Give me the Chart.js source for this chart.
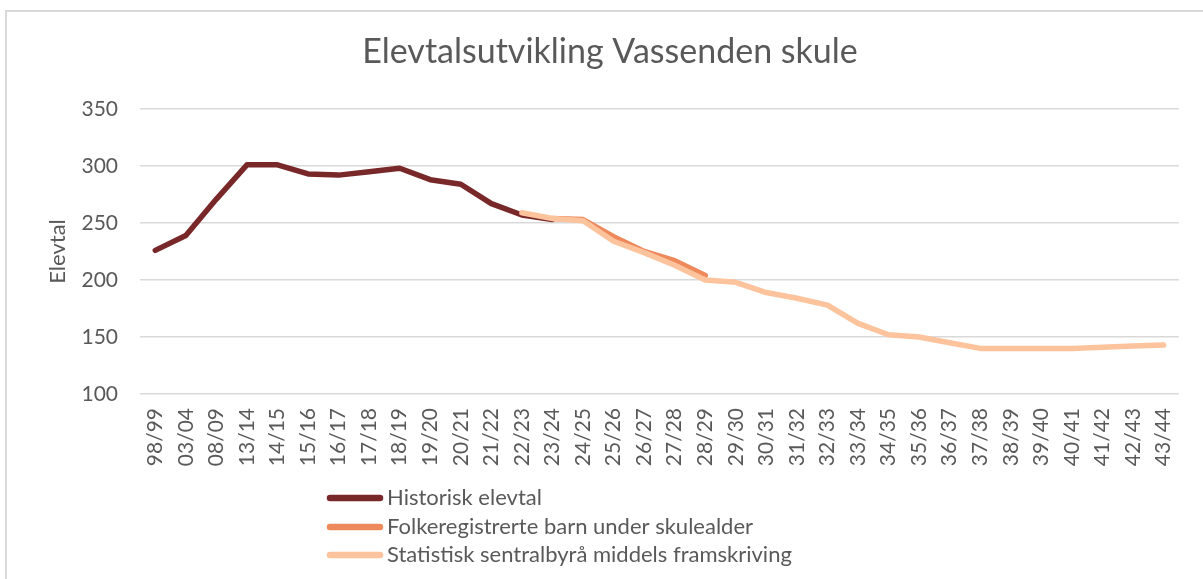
<!DOCTYPE html>
<html>
<head>
<meta charset="utf-8">
<script src="https://cdn.jsdelivr.net/npm/chart.js@4"></script>
<style>
  html, body { margin:0; padding:0; background:#fff; }
  body { width:1203px; height:579px; overflow:hidden; position:relative; }
  #frame { position:absolute; left:5px; top:10px; width:1210px; height:600px; border-left:2px solid #d9d9d9; border-top:2px solid #d9d9d9; box-sizing:border-box; }
  #wrap { position:absolute; left:0; top:0; width:1203px; height:579px; }
</style>
</head>
<body>
<div id="frame"></div>
<div id="wrap"><canvas id="c" width="1203" height="579"></canvas></div>
<script>
const chartTitle = 'Elevtalsutvikling Vassenden skule';
const categories = ['98/99','03/04','08/09','13/14','14/15','15/16','16/17','17/18','18/19','19/20','20/21','21/22','22/23','23/24','24/25','25/26','26/27','27/28','28/29','29/30','30/31','31/32','32/33','33/34','34/35','35/36','36/37','37/38','38/39','39/40','40/41','41/42','42/43','43/44'];

// Historisk elevtal: 98/99 .. 23/24
const historiskElevtal = [226,239,271,301,301,293,292,295,298,288,284,267,257,253];
// Folkeregistrerte barn under skulealder: 23/24 .. 28/29
const folkeregistrerte = [254,253,238,225,217,204];
const folkeregStart = 13;
// Statistisk sentralbyrå middels framskriving: 22/23 .. 43/44
const ssbMiddels = [259,254,252,234,224,213,200,198,189,184,178,162,152,150,145,140,140,140,140,141,142,143];
const ssbStart = 12;

const yTicks = [100,150,200,250,300,350];

function pad(start, vals) {
  return Array(start).fill(null).concat(vals);
}

const TXT = '#595959';
const FONT = 'Lato, "Open Sans", sans-serif';

const titlePlugin = {
  id: 'ctitle',
  afterDraw(chart) {
    const ctx = chart.ctx;
    ctx.save();
    ctx.fillStyle = TXT;
    ctx.font = '34px ' + FONT;
    ctx.textAlign = 'center';
    ctx.textBaseline = 'alphabetic';
    ctx.fillText(chartTitle, 610, 63);
    ctx.restore();
  }
};

const legendPlugin = {
  id: 'vlegend',
  afterDraw(chart) {
    const ctx = chart.ctx;
    ctx.save();
    const x0 = 330, x1 = 380, tx = 387;
    const ys = [498, 527, 555];
    chart.data.datasets.forEach((ds, i) => {
      ctx.strokeStyle = ds.borderColor;
      ctx.lineWidth = 6.5;
      ctx.lineCap = 'round';
      ctx.beginPath();
      ctx.moveTo(x0, ys[i]);
      ctx.lineTo(x1, ys[i]);
      ctx.stroke();
      ctx.fillStyle = TXT;
      ctx.font = '22px ' + FONT;
      ctx.textBaseline = 'middle';
      ctx.textAlign = 'left';
      ctx.fillText(ds.label, tx, ys[i]);
    });
    ctx.restore();
  }
};

new Chart(document.getElementById('c'), {
  type: 'line',
  data: {
    labels: categories,
    datasets: [
      { label: 'Historisk elevtal', data: historiskElevtal, borderColor: '#79282a', order: 3 },
      { label: 'Folkeregistrerte barn under skulealder', data: pad(folkeregStart, folkeregistrerte), borderColor: '#ee895c', order: 2 },
      { label: 'Statistisk sentralbyrå middels framskriving', data: pad(ssbStart, ssbMiddels), borderColor: '#fdc39d', order: 1 }
    ]
  },
  options: {
    responsive: false,
    animation: false,
    devicePixelRatio: 1,
    spanGaps: false,
    elements: {
      line: { borderWidth: 5.5, tension: 0, borderCapStyle: 'round', borderJoinStyle: 'round', fill: false },
      point: { radius: 0, hoverRadius: 0 }
    },
    layout: { padding: { left: 5, right: 16, top: 109, bottom: 105 } },
    plugins: {
      legend: { display: false },
      tooltip: { enabled: false },
      title: { display: false }
    },
    scales: {
      x: {
        offset: true,
        grid: { display: false, drawTicks: false },
        border: { display: false },
        ticks: {
          color: TXT,
          font: { family: FONT, size: 21 },
          maxRotation: 90, minRotation: 90,
          autoSkip: false,
          padding: 14
        },
        afterFit(scale) { scale.height = 80; }
      },
      y: {
        min: 100, max: 350,
        afterBuildTicks(scale) { scale.ticks = yTicks.map(v => ({ value: v })); },
        grid: { color: '#d9d9d9', lineWidth: 1.5, drawTicks: false },
        border: { display: false },
        ticks: { color: TXT, font: { family: FONT, size: 21 }, padding: 22 },
        title: {
          display: true, text: 'Elevtal', color: TXT,
          font: { family: FONT, size: 22, lineHeight: 1 },
          padding: { top: 42, bottom: 0 }
        },
        afterFit(scale) { scale.width = 135; }
      }
    }
  },
  plugins: [titlePlugin, legendPlugin]
});
</script>
</body>
</html>
